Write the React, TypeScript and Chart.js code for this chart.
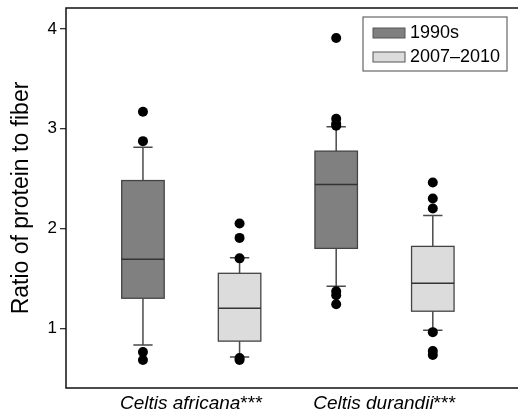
import React, { useEffect, useRef } from "react";
import { Chart, registerables } from "chart.js";
Chart.register(...registerables);

const categories = ["Celtis africana", "Celtis durandii"];
const categorySuffix = "***";
const seriesNames = ["1990s", "2007–2010"];
const yTicks = [1, 2, 3, 4];

// [lower whisker, Q1, median, Q3, upper whisker] per category
const stats1990s = [
  [0.83, 1.3, 1.69, 2.48, 2.815],
  [1.42, 1.8, 2.44, 2.775, 3.02],
];
const stats2007 = [
  [0.71, 0.87, 1.2, 1.55, 1.705],
  [0.98, 1.17, 1.45, 1.82, 2.13],
];
const outliers1990s = [
  [3.17, 2.875, 0.76, 0.68],
  [3.91, 3.1, 3.05, 3.03, 1.37, 1.33, 1.24],
];
const outliers2007 = [
  [2.05, 1.905, 1.7, 0.7, 0.68],
  [2.46, 2.3, 2.2, 0.96, 0.77, 0.73],
];

const seriesStats = [stats1990s, stats2007];
const seriesOutliers = [outliers1990s, outliers2007];
const seriesFill = ["#808080", "#dcdcdc"];
const FONT = "'Liberation Sans', Arial, Helvetica, sans-serif";
const BOX_W = 0.44;
const CAP_W = 0.2;

const posOf = (c: number, s: number) => c * 2 + s + 1;

const boxPlugin = {
  id: "boxes",
  beforeDatasetsDraw(chart: any) {
    const { ctx, scales } = chart;
    const xs = scales.x, ys = scales.y;
    ctx.save();
    seriesStats.forEach((stats, s) => {
      stats.forEach((st, c) => {
        const [lo, q1, med, q3, hi] = st;
        const xc = xs.getPixelForValue(posOf(c, s));
        const xl = xs.getPixelForValue(posOf(c, s) - BOX_W / 2);
        const xr = xs.getPixelForValue(posOf(c, s) + BOX_W / 2);
        const cl = xs.getPixelForValue(posOf(c, s) - CAP_W / 2);
        const cr = xs.getPixelForValue(posOf(c, s) + CAP_W / 2);
        const yLo = ys.getPixelForValue(lo);
        const yQ1 = ys.getPixelForValue(q1);
        const yMed = ys.getPixelForValue(med);
        const yQ3 = ys.getPixelForValue(q3);
        const yHi = ys.getPixelForValue(hi);
        ctx.strokeStyle = "#4a4a4a";
        ctx.lineWidth = 1.5;
        ctx.beginPath();
        ctx.moveTo(xc, yQ1);
        ctx.lineTo(xc, yLo);
        ctx.moveTo(xc, yQ3);
        ctx.lineTo(xc, yHi);
        ctx.moveTo(cl, yLo);
        ctx.lineTo(cr, yLo);
        ctx.moveTo(cl, yHi);
        ctx.lineTo(cr, yHi);
        ctx.stroke();
        ctx.fillStyle = seriesFill[s];
        ctx.fillRect(xl, yQ3, xr - xl, yQ1 - yQ3);
        ctx.strokeStyle = "#444";
        ctx.lineWidth = 1.3;
        ctx.strokeRect(xl, yQ3, xr - xl, yQ1 - yQ3);
        ctx.strokeStyle = "#333";
        ctx.lineWidth = 1.5;
        ctx.beginPath();
        ctx.moveTo(xl, yMed);
        ctx.lineTo(xr, yMed);
        ctx.stroke();
      });
    });
    ctx.restore();
  },
  afterDraw(chart: any) {
    const { ctx, chartArea, scales } = chart;
    ctx.save();
    // frame
    ctx.strokeStyle = "#111";
    ctx.lineWidth = 1.5;
    ctx.beginPath();
    ctx.moveTo(chart.width + 2, chartArea.top);
    ctx.lineTo(chartArea.left, chartArea.top);
    ctx.lineTo(chartArea.left, chartArea.bottom);
    ctx.lineTo(chart.width + 2, chartArea.bottom);
    ctx.stroke();
    // category labels
    const y = chartArea.bottom + 16;
    ctx.fillStyle = "#000";
    ctx.textBaseline = "middle";
    ctx.textAlign = "left";
    categories.forEach((cat, c) => {
      const cx = scales.x.getPixelForValue(posOf(c, 0) + 0.5);
      ctx.font = `italic 19px ${FONT}`;
      const w1 = ctx.measureText(cat).width;
      ctx.font = `19px ${FONT}`;
      const w2 = ctx.measureText(categorySuffix).width;
      const x0 = cx - (w1 + w2) / 2;
      ctx.font = `italic 19px ${FONT}`;
      ctx.fillText(cat, x0, y);
      ctx.font = `19px ${FONT}`;
      ctx.fillText(categorySuffix, x0 + w1, y);
    });
    // legend
    const lw = 144, lh = 54;
    const lx = chart.width - 11 - lw;
    const ly = chartArea.top + 9;
    ctx.fillStyle = "#fff";
    ctx.fillRect(lx, ly, lw, lh);
    ctx.strokeStyle = "#666";
    ctx.lineWidth = 1.2;
    ctx.strokeRect(lx, ly, lw, lh);
    seriesNames.forEach((name, s) => {
      const ry = ly + 11 + s * 24;
      ctx.fillStyle = seriesFill[s];
      ctx.fillRect(lx + 10, ry, 32, 10);
      ctx.strokeStyle = "#555";
      ctx.lineWidth = 1;
      ctx.strokeRect(lx + 10, ry, 32, 10);
      ctx.fillStyle = "#000";
      ctx.font = `18px ${FONT}`;
      ctx.textBaseline = "middle";
      ctx.fillText(name, lx + 47, ry + 5.5);
    });
    ctx.restore();
  },
};

export default function App() {
  const ref = useRef<HTMLCanvasElement>(null);
  useEffect(() => {
    if (!ref.current) return;
    const datasets = seriesNames.map((name, s) => ({
      label: name,
      data: seriesOutliers[s].flatMap((vals, c) =>
        vals.map((v) => ({ x: posOf(c, s), y: v }))
      ),
      pointRadius: 5,
      pointHoverRadius: 5,
      pointBackgroundColor: "#000",
      pointBorderColor: "#000",
      pointBorderWidth: 0,
      showLine: false,
    }));
    const chart = new Chart(ref.current, {
      type: "scatter",
      data: { datasets },
      plugins: [boxPlugin],
      options: {
        animation: false,
        responsive: false,
        layout: { padding: { top: 8, left: 0, right: 0, bottom: 0 } },
        plugins: {
          legend: { display: false },
          tooltip: { enabled: false },
        },
        scales: {
          x: {
            type: "linear",
            min: 0.2035,
            max: 4.83,
            ticks: { display: false },
            grid: { display: false },
            border: { display: false },
            afterFit: (sc: any) => {
              sc.height = 27;
              sc.paddingLeft = 0;
              sc.paddingRight = 0;
              sc.paddingTop = 0;
              sc.paddingBottom = 0;
            },
          },
          y: {
            type: "linear",
            min: 0.4,
            max: 4.21,
            afterBuildTicks: (sc: any) => {
              sc.ticks = yTicks.map((v) => ({ value: v }));
            },
            ticks: {
              color: "#000",
              font: { family: FONT, size: 17 },
              padding: 3,
            },
            grid: {
              drawOnChartArea: false,
              drawTicks: true,
              tickLength: 6,
              color: "#333",
              lineWidth: 1.3,
            },
            border: { display: false },
            title: {
              display: true,
              text: "Ratio of protein to fiber",
              color: "#000",
              font: { family: FONT, size: 23 },
              padding: { top: 8, bottom: 0 },
            },
            afterFit: (sc: any) => {
              sc.width = 66;
              sc.paddingTop = 0;
              sc.paddingBottom = 0;
              sc.paddingLeft = 0;
              sc.paddingRight = 0;
            },
          },
        },
      },
    });
    return () => chart.destroy();
  }, []);
  return (
    <div style={{ position: "fixed", left: 0, top: 0, width: 518, height: 415, background: "#fff" }}>
      <canvas ref={ref} width={518} height={415} style={{ display: "block" }} />
    </div>
  );
}
